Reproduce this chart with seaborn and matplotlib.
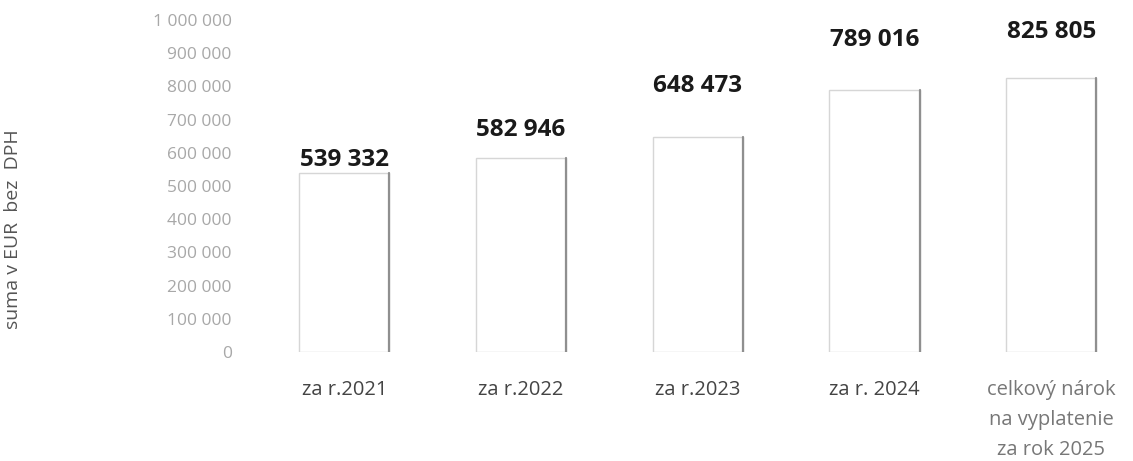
import matplotlib
matplotlib.use('Agg')
import matplotlib.pyplot as plt
import seaborn as sns
import pandas as pd
import numpy as np

categories = ['za r.2021', 'za r.2022', 'za r.2023', 'za r. 2024',
              'celkový nárok\nna vyplatenie\nza rok 2025']
values = [539332, 582946, 648473, 789016, 825805]
value_labels = ['539 332', '582 946', '648 473', '789 016', '825 805']
yticks = [0, 100000, 200000, 300000, 400000, 500000, 600000, 700000, 800000, 900000, 1000000]

# distance from bar top to label centre, in pixels (as on the scan)
label_gap = [13, 28, 51, 50, 46]

df = pd.DataFrame({'cat': categories, 'val': values})

sns.set_style('white')
plt.rcParams['font.family'] = ['Open Sans', 'DejaVu Sans']

fig = plt.figure(figsize=(11.33, 4.61), dpi=100)
ax = fig.add_axes([240/1133, (461-352)/461, (1122-240)/1133, 332/461])

sns.barplot(data=df, x='cat', y='val', color='white', width=0.51,
            edgecolor='#d6d6d6', linewidth=1.0, ax=ax)

# darker right edge of each bar, as in the scan
for p in ax.patches:
    xr = p.get_x() + p.get_width()
    ax.plot([xr, xr], [0, p.get_height()], color='#8f8f8f', lw=1.6, zorder=3)

for i, (v, lab) in enumerate(zip(values, value_labels)):
    ax.annotate(lab, (i, v), xytext=(0, label_gap[i] * 0.72), textcoords='offset points',
                ha='center', va='center', fontsize=17.5, fontweight='bold', color='#1a1a1a')

ax.set_ylim(0, 1000000)
ax.set_xlim(-0.59, 4.4)
ax.set_yticks(yticks)
ax.set_yticklabels([f'{t:,}'.replace(',', ' ') for t in yticks], fontsize=12.5, color='#a8a8a8')
ax.tick_params(axis='y', length=0, pad=6)
ax.tick_params(axis='x', length=0, pad=20)
for i, t in enumerate(ax.get_xticklabels()):
    t.set_fontsize(14.5)
    t.set_linespacing(1.68)
    t.set_color('#444444' if i < 4 else '#777777')
    t.set_va('top')

ax.set_xlabel('')
ax.set_ylabel('suma v EUR  bez  DPH', fontsize=14, color='#555555', labelpad=0)
ax.yaxis.set_label_coords(-(240-22)/(1122-240), 0.37)

for s in ax.spines.values():
    s.set_visible(False)

fig.savefig('out.png', dpi=100, facecolor='white')
